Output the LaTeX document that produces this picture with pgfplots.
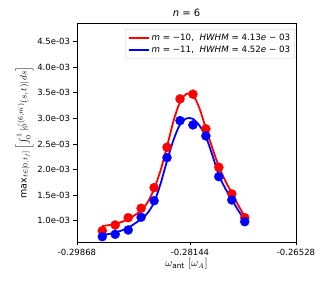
\documentclass[border=0pt]{standalone}
\usepackage{pgfplots}
\pgfplotsset{compat=1.18}
\usepackage{fontspec}
\setmainfont{DejaVu Sans}
\pgfplotstableread{
x y
-0.29482 0.804e-3
-0.29285 0.916e-3
-0.29087 1.059e-3
-0.28890 1.243e-3
-0.28692 1.646e-3
-0.28495 2.436e-3
-0.28297 3.382e-3
-0.28100 3.474e-3
-0.27902 2.795e-3
-0.27705 2.045e-3
-0.27507 1.523e-3
-0.27310 1.059e-3
}\redpts
\pgfplotstableread{
x y
-0.29482 0.687e-3
-0.29285 0.734e-3
-0.29087 0.818e-3
-0.28890 1.067e-3
-0.28692 1.391e-3
-0.28495 2.233e-3
-0.28297 2.957e-3
-0.28100 2.873e-3
-0.27902 2.658e-3
-0.27705 1.861e-3
-0.27507 1.405e-3
-0.27310 0.980e-3
}\bluepts
\pgfplotstableread{
x y
-0.29482 0.896e-3
-0.29285 0.935e-3
-0.29087 1.030e-3
-0.28890 1.200e-3
-0.28791 1.360e-3
-0.28692 1.620e-3
-0.28594 1.980e-3
-0.28495 2.450e-3
-0.28396 2.950e-3
-0.28297 3.320e-3
-0.28198 3.480e-3
-0.28100 3.460e-3
-0.28001 3.200e-3
-0.27902 2.800e-3
-0.27803 2.420e-3
-0.27705 2.060e-3
-0.27606 1.780e-3
-0.27507 1.540e-3
-0.27408 1.300e-3
-0.27310 1.080e-3
}\redfit
\pgfplotstableread{
x y
-0.29482 0.720e-3
-0.29285 0.765e-3
-0.29087 0.865e-3
-0.28890 1.030e-3
-0.28791 1.150e-3
-0.28692 1.360e-3
-0.28594 1.720e-3
-0.28495 2.170e-3
-0.28396 2.580e-3
-0.28297 2.880e-3
-0.28198 3.000e-3
-0.28100 2.990e-3
-0.28001 2.860e-3
-0.27902 2.640e-3
-0.27803 2.280e-3
-0.27705 1.890e-3
-0.27606 1.630e-3
-0.27507 1.410e-3
-0.27408 1.200e-3
-0.27310 1.010e-3
}\bluefit
\begin{document}
\begin{tikzpicture}
\path[use as bounding box] (-77pt,-42pt) rectangle (248pt,242pt);
\begin{axis}[
  at={(0,0)}, anchor=south west,
  scale only axis, width=219pt, height=219pt,
  xmin=-0.29868, xmax=-0.26528,
  ymin=0.583e-3, ymax=4.866e-3,
  xtick={-0.29868,-0.28144,-0.26528},
  xticklabels={-0.29868,-0.28144,-0.26528},
  ytick={1.0e-3,1.5e-3,2.0e-3,2.5e-3,3.0e-3,3.5e-3,4.0e-3,4.5e-3},
  yticklabels={1.0e-03,1.5e-03,2.0e-03,2.5e-03,3.0e-03,3.5e-03,4.0e-03,4.5e-03},
  scaled x ticks=false, scaled y ticks=false,
  tick align=outside, tick pos=left,
  major tick length=3.5pt,
  every tick/.style={black, line width=0.8pt},
  axis line style={line width=0.8pt},
  tick label style={font=\fontsize{8.5}{10}\selectfont},
  /pgf/number format/assume math mode=true,
  title={\textit{n} = 6},
  title style={font=\fontsize{10}{12}\selectfont, yshift=-3pt},
  xlabel={$\omega_{\mathrm{ant}}\ [\omega_A]$},
  xlabel style={font=\fontsize{10.5}{12}\selectfont, yshift=4pt},
  ylabel={$\max_{t\in[0,t_f]}\left[\int_0^1 |\hat{\phi}^{(6,m)}(s,t)|\,ds\right]$},
  ylabel style={font=\fontsize{9.5}{11}\selectfont, yshift=-3pt},
  legend style={at={(0.995,0.973)}, anchor=north east, draw=black!20, rounded corners=2pt,
    font=\fontsize{8.7}{10}\selectfont, row sep=0.5pt, inner sep=2.5pt},
  legend cell align=left,
  legend image code/.code={\draw[#1, line width=2pt] (0cm,0cm) -- (0.7cm,0cm);},
]
\addplot[red, line width=1.8pt, smooth, tension=0.5] table {\redfit};
\addlegendentry{\textit{m} = −10, \ \textit{HWHM} = 4.13\textit{e} − 03}
\addplot[blue, line width=1.8pt, smooth, tension=0.5] table {\bluefit};
\addlegendentry{\textit{m} = −11, \ \textit{HWHM} = 4.52\textit{e} − 03}
\addplot[only marks, mark=*, mark size=4.5pt, red, forget plot] table {\redpts};
\addplot[only marks, mark=*, mark size=4.5pt, blue, forget plot] table {\bluepts};
\end{axis}
\end{tikzpicture}
\end{document}
